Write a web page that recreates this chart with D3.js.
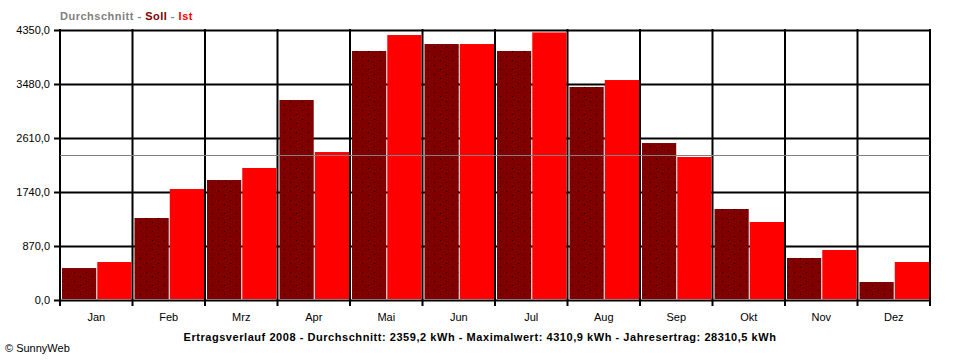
<!DOCTYPE html>
<html><head><meta charset="utf-8">
<script src="https://cdn.jsdelivr.net/npm/d3@7"></script>
<style>body{margin:0;background:#fff}svg{display:block}</style>
</head><body>
<svg id="c" width="960" height="360"></svg>
<script>
const months = ["Jan","Feb","Mrz","Apr","Mai","Jun","Jul","Aug","Sep","Okt","Nov","Dez"];
const soll = [515,1321,1933,3222,4012,4124,4012,3432,2529,1466,677,290];
const ist  = [612,1788,2127,2384,4269,4124,4310.9,3544,2304,1257,806,612];
const yTicks = [0,870,1740,2610,3480,4350];
const average = 2359.2;
const legend = [["Durchschnitt","#808080"],[" - ","#808080"],["Soll","#800000"],[" - ","#808080"],["Ist","#ff0000"]];
const footer = "Ertragsverlauf 2008 - Durchschnitt: 2359,2 kWh - Maximalwert: 4310,9 kWh - Jahresertrag: 28310,5 kWh";
const credit = "\u00A9 SunnyWeb";

const svg = d3.select("#c");
const L = 60, R = 930, T = 30, B = 300;
const font = "'Liberation Sans', Arial, sans-serif";
const x = d3.scaleBand().domain(months).range([L, R]).padding(0);
const sub = d3.scaleBand().domain(["soll","ist"]).range([2, x.bandwidth() - 1]).paddingInner(0.03);
const y = d3.scaleLinear().domain([0, 4350]).range([B, T]);
const fmt = v => d3.format(".1f")(v).replace(".", ",");

// dot pattern
const defs = svg.append("defs");
const pat = defs.append("pattern").attr("id","dots").attr("patternUnits","userSpaceOnUse")
  .attr("width",12).attr("height",9);
pat.append("rect").attr("width",12).attr("height",9).attr("fill","#800000");
[[2,2],[8,6]].forEach(([a,b]) => pat.append("rect").attr("x",a).attr("y",b).attr("width",1).attr("height",1).attr("fill","#000"));

// horizontal grid + y axis
const yAxis = d3.axisLeft(y).tickValues(yTicks).tickFormat(fmt).tickSize(-(R - L)).tickPadding(10);
const gy = svg.append("g").attr("transform", `translate(${L},0)`).call(yAxis);
gy.select(".domain").remove();
gy.selectAll(".tick line").attr("stroke","#000").attr("stroke-width",2).attr("x1",-6);
gy.selectAll(".tick text").attr("font-family",font).attr("font-size",11).attr("fill","#000").attr("x",-10);

// vertical grid at month boundaries
const bounds = months.map(m => x(m)).concat([R]);
svg.append("g").selectAll("line").data(bounds).join("line")
  .attr("x1", d => d).attr("x2", d => d).attr("y1", T - 1).attr("y2", B + 6)
  .attr("stroke","#000").attr("stroke-width",2);

// bars
const g = svg.append("g");
g.selectAll("rect.soll").data(months).join("rect").attr("class","soll")
  .attr("x", (m) => x(m) + sub("soll")).attr("width", sub.bandwidth())
  .attr("y", (m,i) => y(soll[i])).attr("height", (m,i) => B - 1 - y(soll[i]))
  .attr("fill","url(#dots)");
g.selectAll("rect.ist").data(months).join("rect").attr("class","ist")
  .attr("x", (m) => x(m) + sub("ist")).attr("width", sub.bandwidth())
  .attr("y", (m,i) => y(ist[i])).attr("height", (m,i) => B - 1 - y(ist[i]))
  .attr("fill","#ff0000");

// average line
svg.append("line").attr("x1", L).attr("x2", R).attr("y1", Math.round(y(average)) + 1.5).attr("y2", Math.round(y(average)) + 1.5)
  .attr("stroke","#808080").attr("stroke-width",1);

// month labels
svg.append("g").selectAll("text").data(months).join("text")
  .attr("x", m => x(m) + x.bandwidth()/2).attr("y", 321)
  .attr("text-anchor","middle").attr("font-family",font).attr("font-size",11).text(m => m);

// legend title
const lt = svg.append("text").attr("x", 60).attr("y", 20).attr("font-family",font).attr("font-size",11)
  .attr("font-weight","bold").attr("letter-spacing","0.5px");
lt.selectAll("tspan").data(legend).join("tspan").attr("fill", d => d[1]).attr("xml:space","preserve").text(d => d[0]);

// footer
svg.append("text").attr("x", 480).attr("y", 341).attr("text-anchor","middle")
  .attr("font-family",font).attr("font-size",11).attr("font-weight","bold").attr("letter-spacing","0.55px").text(footer);
svg.append("text").attr("x", 5).attr("y", 352).attr("font-family",font).attr("font-size",11).text(credit);
</script>
</body></html>
